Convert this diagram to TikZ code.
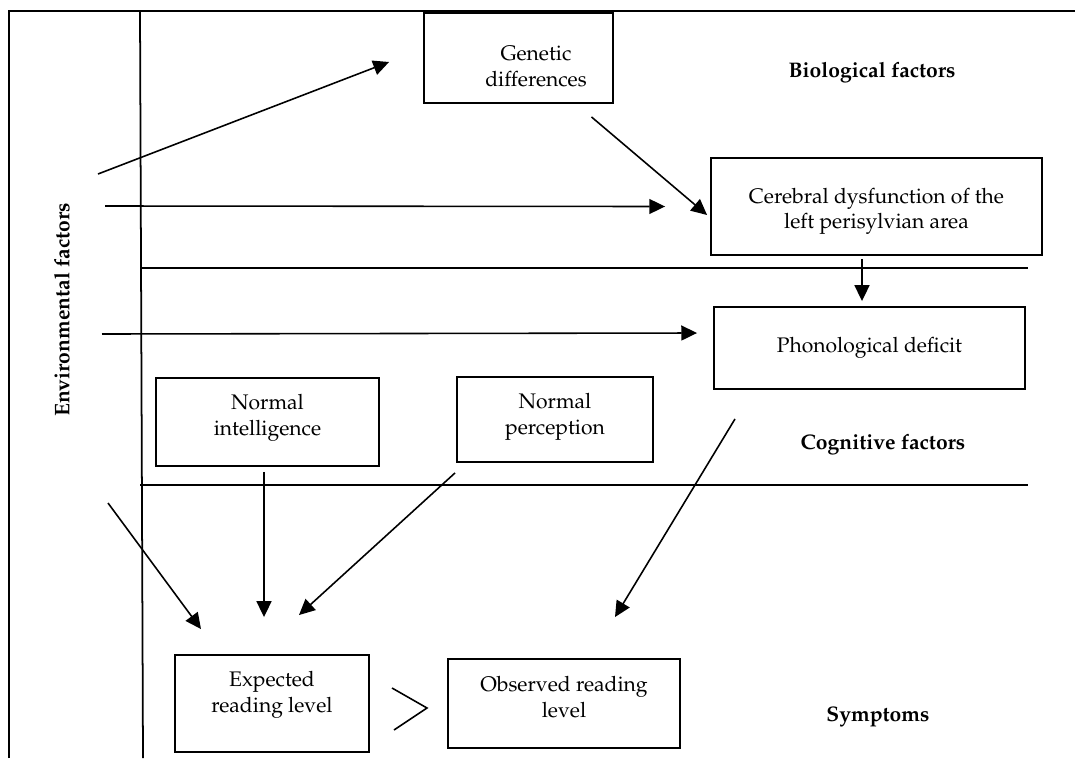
\documentclass[tikz,border=0pt]{standalone}
\usepackage[T1]{fontenc}
\usepackage{mathpazo}
\usepackage{tikz}
\usetikzlibrary{arrows.meta}

\begin{document}
\begin{tikzpicture}[
    x=0.02cm, y=-0.02cm,
    box/.style={rectangle, draw=black, line width=1.1pt, align=center, font=\fontsize{12}{14.5}\selectfont, inner sep=3pt},
    txt/.style={text height=#1, text depth=0pt},
    heading/.style={font=\fontsize{12}{14.5}\selectfont\bfseries, inner sep=1pt},
    rule/.style={draw=black, line width=1pt},
    line/.style={draw=black, line width=0.9pt, -{Triangle[length=9pt, width=8.5pt]}}
]
\useasboundingbox (0,0) rectangle (1075,758);

% frame and bands
\draw[rule] (9,758) -- (9,11) -- (1075,11);
\draw[rule] (140,11) -- (143,758);
\draw[rule] (140,268) -- (1028,268);
\draw[rule] (140,485) -- (1028,485);

% band titles
\node[heading] (bio) at (872,73) {Biological factors};
\node[heading] (cog) at (883,445) {Cognitive factors};
\node[heading] (symp) at (878,717) {Symptoms};
\node[heading, rotate=90] (env) at (62,310) {Environmental factors};

% boxes
\node[box, txt=31.9pt, minimum width=3.78cm, minimum height=1.8cm] (genetic) at (518.5,58) {\hspace*{0.7cm}Genetic\\\hspace*{0.7cm}differences};
\node[box, txt=25.6pt, minimum width=6.62cm, minimum height=1.94cm] (cerebral) at (876.5,206.5) {Cerebral dysfunction of the\\left perisylvian area};
\node[box, txt=5.1pt, minimum width=6.22cm, minimum height=1.64cm] (phono) at (869.5,348) {Phonological deficit};
\node[box, txt=14.8pt, minimum width=4.46cm, minimum height=1.76cm] (intel) at (267.5,422) {Normal\\intelligence};
\node[box, txt=16.5pt, minimum width=3.92cm, minimum height=1.7cm] (percep) at (555,419.5) {Normal\\perception};
\node[box, txt=9.7pt, minimum width=3.88cm, minimum height=1.94cm] (expected) at (272,703.5) {Expected\\reading level};
\node[box, txt=15.4pt, minimum width=4.64cm, minimum height=1.78cm] (observed) at (564,703.5) {Observed reading\\level};

% free ends on the environmental side
\coordinate (env1) at (98,174);
\coordinate (env2) at (105,206);
\coordinate (env3) at (102,334);
\coordinate (env4) at (108,503);

% arrows
\draw[line] (env1) -- ([shift={(-34,4)}]genetic.west);
\draw[line] (env2) -- ([shift={(-45,0)}]cerebral.west);
\draw[line] ([shift={(73,13)}]genetic.south) -- ([shift={(-3,8.5)}]cerebral.west);
\draw[line] ([shift={(-14.5,3)}]cerebral.south) -- ([shift={(-7.5,-5)}]phono.north);
\draw[line] (env3) -- ([shift={(-16,-15)}]phono.west);
\draw[line] ([shift={(-134.5,29)}]phono.south) -- ([shift={(51,-41)}]observed.north);
\draw[line] (env4) -- ([shift={(-71,-25)}]expected.north);
\draw[line] ([shift={(-3.5,5)}]intel.south) -- ([shift={(-8,-37)}]expected.north);
\draw[line] ([shift={(-100,10)}]percep.south) -- ([shift={(27,-39)}]expected.north);

% greater-than sign between the two reading levels
\coordinate (gt) at (409,709);
\draw[rule, line width=0.9pt] ([shift={(-17,-21)}]gt) -- ([shift={(18,-1)}]gt) -- ([shift={(-15,21)}]gt);

\end{tikzpicture}
\end{document}
